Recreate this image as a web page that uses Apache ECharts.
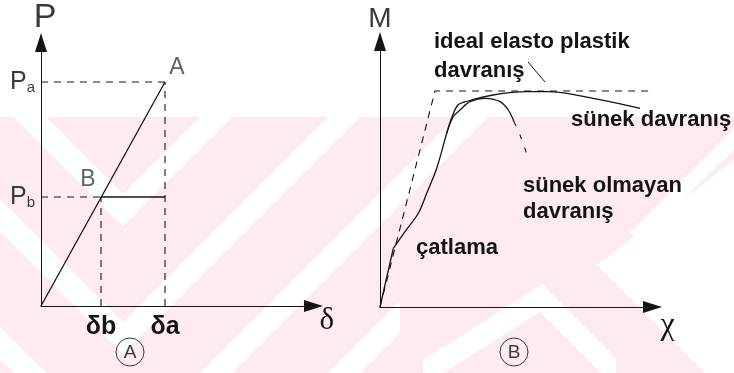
<!DOCTYPE html>
<html>
<head>
<meta charset="utf-8">
<script src="https://cdn.jsdelivr.net/npm/echarts@6/dist/echarts.min.js"></script>
<style>
  html, body { margin: 0; padding: 0; background: #fff; }
  #chart { width: 734px; height: 373px; }
</style>
</head>
<body>
<div id="chart"></div>
<script>
// ---- Panel A: load P against deflection δ ----
const deltaTicks = [0.60, 1.24];
const deltaTickLabels = ['δb', 'δa'];
const loadTicks = [1.09, 2.24];
const loadTickSubs = ['b', 'a'];
const pointB = [0.60, 1.09];
const pointA = [1.24, 2.24];

// ---- Panel B: moment M against curvature χ ----
const idealElastoPlastic = [[0, 0], [0.55, 2.16], [2.80, 2.16]];
const crackingBranch = [[0, 0], [0.133, 0.587]];
const ductileCurve = [[0.133, 0.587], [0.25, 0.753], [0.383, 0.937], [0.467, 1.137], [0.567, 1.387],
  [0.667, 1.737], [0.72, 1.90], [0.78, 2.02], [0.88, 2.06], [1.13, 2.12], [1.47, 2.153],
  [1.67, 2.153], [2.13, 2.087], [2.60, 1.987]];
const brittleCurve = [[0.667, 1.737], [0.73, 1.90], [0.80, 1.97], [0.90, 2.053], [1.05, 2.087],
  [1.20, 2.053], [1.283, 1.97], [1.34, 1.853]];
const brittleDrop = [[1.34, 1.853], [1.40, 1.72], [1.47, 1.52]];
const idealLeader = [[1.48, 2.45], [1.65, 2.25]];

const ink = '#141414';
const thinInk = '#3a3a3a';
const thinFont = "'DejaVu Sans ExtraLight', 'Liberation Sans Narrow', 'Liberation Sans', sans-serif";
const sansFont = "'Liberation Sans', Arial, sans-serif";
const serifFont = "'Liberation Serif', 'DejaVu Serif', serif";

function pickLabel(values, labels, v) {
  const i = values.findIndex(t => Math.abs(t - v) < 1e-6);
  return i < 0 ? '' : labels[i];
}

// ---- pale background stripes ----
const wmPink = '#fdebef';
function band(x1, y1, x2, y2, h) {
  // parallelogram of vertical thickness h around the segment (x1,y1)-(x2,y2)
  return [[x1, y1 - h / 2], [x2, y2 - h / 2], [x2, y2 + h / 2], [x1, y1 + h / 2]];
}
function whitePoly(points) {
  return { type: 'polygon', z: -19, silent: true, shape: { points: points }, style: { fill: '#fff' } };
}
const backdrop = [{ type: 'rect', z: -20, silent: true, shape: { x: 0, y: 117, width: 734, height: 256 }, style: { fill: wmPink } }];
// nested V chevrons around x = 123: [vertex y, reach of the right arm]
[[210, 120], [338, 240], [466, 380], [594, 277], [722, 200]].forEach(([vy, reach]) => {
  backdrop.push(whitePoly(band(123 - 400, vy - 400, 123, vy, 32)));
  backdrop.push(whitePoly(band(123, vy, 123 + reach, vy - reach, 32)));
});
// chevron below the curvature axis
backdrop.push(whitePoly(band(423, 373, 541, 298, 26)));
backdrop.push(whitePoly(band(541, 298, 616, 373, 30)));
// open white wedge on the right
backdrop.push(whitePoly([[597, 265], [734, 160], [734, 373], [705, 373]]));
backdrop.push(whitePoly([[630, 232], [734, 128], [734, 150], [640, 240]]));

function note(text, x, y) {
  return { type: 'text', z: 10, x: x, y: y, style: { text: text, fill: ink, fontSize: 22, fontWeight: 'bold', fontFamily: sansFont,
    align: 'left', verticalAlign: 'middle', textAlign: 'left', textVerticalAlign: 'middle' } };
}
const notes = [
  note('ideal elasto plastik', 434, 41.5),
  note('davranış', 434, 70.5),
  note('sünek davranış', 571, 120),
  note('sünek olmayan', 523, 185.5),
  note('davranış', 523, 211.5),
  note('çatlama', 416, 247.5)
];

// circled panel letters
function circled(letter, cx, cy) {
  return [
    { type: 'circle', z: 10, silent: true, shape: { cx: cx, cy: cy, r: 14 }, style: { fill: 'none', stroke: thinInk, lineWidth: 1 } },
    { type: 'text', z: 10, silent: true, x: cx, y: cy + 1, style: { text: letter, fill: thinInk, fontSize: 19, fontFamily: thinFont,
      align: 'center', verticalAlign: 'middle', textAlign: 'center', textVerticalAlign: 'middle' } }
  ];
}

const axisArrow = { symbol: ['none', 'triangle'], symbolSize: [12, 19] };

function lineSeries(gridIdx, data, opts) {
  return Object.assign({
    type: 'line', xAxisIndex: gridIdx, yAxisIndex: gridIdx, data: data, symbol: 'none', clip: false,
    silent: true, lineStyle: { color: ink, width: 1.3, type: 'solid' }, z: 3
  }, opts || {});
}
const dashed = w => ({ color: ink, width: w || 1.1, type: [7, 6] });

const option = {
  animation: false,
  backgroundColor: '#fff',
  graphic: { elements: backdrop.concat(notes, circled('A', 130, 352), circled('B', 514, 352)) },
  grid: [
    { left: 41, top: 42.5, width: 272.5, height: 263.5 },
    { left: 380, top: 41.5, width: 272.5, height: 265.5 }
  ],
  xAxis: [
    { gridIndex: 0, type: 'value', min: 0, max: 2.725,
      axisLine: Object.assign({ show: true, lineStyle: { color: ink, width: 1 } }, axisArrow),
      axisTick: { show: false }, splitLine: { show: false },
      axisLabel: { show: true, customValues: deltaTicks, formatter: v => pickLabel(deltaTicks, deltaTickLabels, v),
        margin: 9, color: ink, fontSize: 25, fontWeight: 'bold', fontFamily: "'Liberation Sans Narrow', " + sansFont },
      name: 'δ', nameLocation: 'end', nameGap: 6,
      nameTextStyle: { fontFamily: serifFont, fontSize: 31, color: ink, verticalAlign: 'top', lineHeight: 30 } },
    { gridIndex: 1, type: 'value', min: 0, max: 2.725,
      axisLine: Object.assign({ show: true, lineStyle: { color: ink, width: 1 } }, axisArrow),
      axisTick: { show: false }, splitLine: { show: false }, axisLabel: { show: false },
      name: 'χ', nameLocation: 'end', nameGap: 8,
      nameTextStyle: { fontFamily: serifFont, fontSize: 32, color: ink, verticalAlign: 'top', lineHeight: 30, padding: [4, 0, 0, 0] } }
  ],
  yAxis: [
    { gridIndex: 0, type: 'value', min: 0, max: 2.635,
      axisLine: Object.assign({ show: true, lineStyle: { color: ink, width: 1 } }, axisArrow),
      axisTick: { show: false }, splitLine: { show: false },
      axisLabel: { show: true, customValues: loadTicks, margin: 6,
        formatter: v => '{p|P}{s|' + pickLabel(loadTicks, loadTickSubs, v) + '}',
        rich: { p: { fontSize: 25, lineHeight: 26, verticalAlign: 'bottom', fontFamily: thinFont, color: thinInk },
                s: { fontSize: 15, lineHeight: 23, verticalAlign: 'bottom', fontFamily: thinFont, color: thinInk } } },
      name: 'P', nameLocation: 'end', nameGap: 8,
      nameTextStyle: { fontFamily: thinFont, fontSize: 34, color: thinInk, padding: [0, 0, 0, 8] } },
    { gridIndex: 1, type: 'value', min: 0, max: 2.655,
      axisLine: Object.assign({ show: true, lineStyle: { color: ink, width: 1 } }, axisArrow),
      axisTick: { show: false }, splitLine: { show: false }, axisLabel: { show: false },
      name: 'M', nameLocation: 'end', nameGap: 8,
      nameTextStyle: { fontFamily: thinFont, fontSize: 28, color: thinInk } }
  ],
  series: [
    // Panel A
    lineSeries(0, [[0, 0], pointA]),
    lineSeries(0, [pointB, [pointA[0], pointB[1]]]),
    lineSeries(0, [[0, pointA[1]], pointA], { lineStyle: dashed() }),
    lineSeries(0, [[pointA[0], 0], pointA], { lineStyle: dashed() }),
    lineSeries(0, [[0, pointB[1]], pointB], { lineStyle: dashed() }),
    lineSeries(0, [[pointB[0], 0], pointB], { lineStyle: dashed() }),
    { type: 'scatter', xAxisIndex: 0, yAxisIndex: 0, symbolSize: 0, silent: true, z: 4,
      data: [
        { value: pointA, label: { show: true, formatter: 'A', position: 'inside', offset: [12, -14] } },
        { value: pointB, label: { show: true, formatter: 'B', position: 'inside', offset: [-13, -17] } }
      ],
      label: { fontSize: 23, fontFamily: thinFont, color: thinInk, align: 'center', verticalAlign: 'middle' } },
    // Panel B
    lineSeries(1, idealElastoPlastic, { lineStyle: dashed(1.1) }),
    lineSeries(1, crackingBranch),
    lineSeries(1, ductileCurve, { smooth: 0.35 }),
    lineSeries(1, brittleCurve, { smooth: 0.35 }),
    lineSeries(1, brittleDrop, { smooth: 0.3, lineStyle: { color: ink, width: 1.1, type: [5, 9] } }),
    lineSeries(1, idealLeader, { lineStyle: { color: ink, width: 1 } })
  ]
};

const chart = echarts.init(document.getElementById('chart'), null, { renderer: 'canvas' });
chart.setOption(option);
</script>
</body>
</html>
